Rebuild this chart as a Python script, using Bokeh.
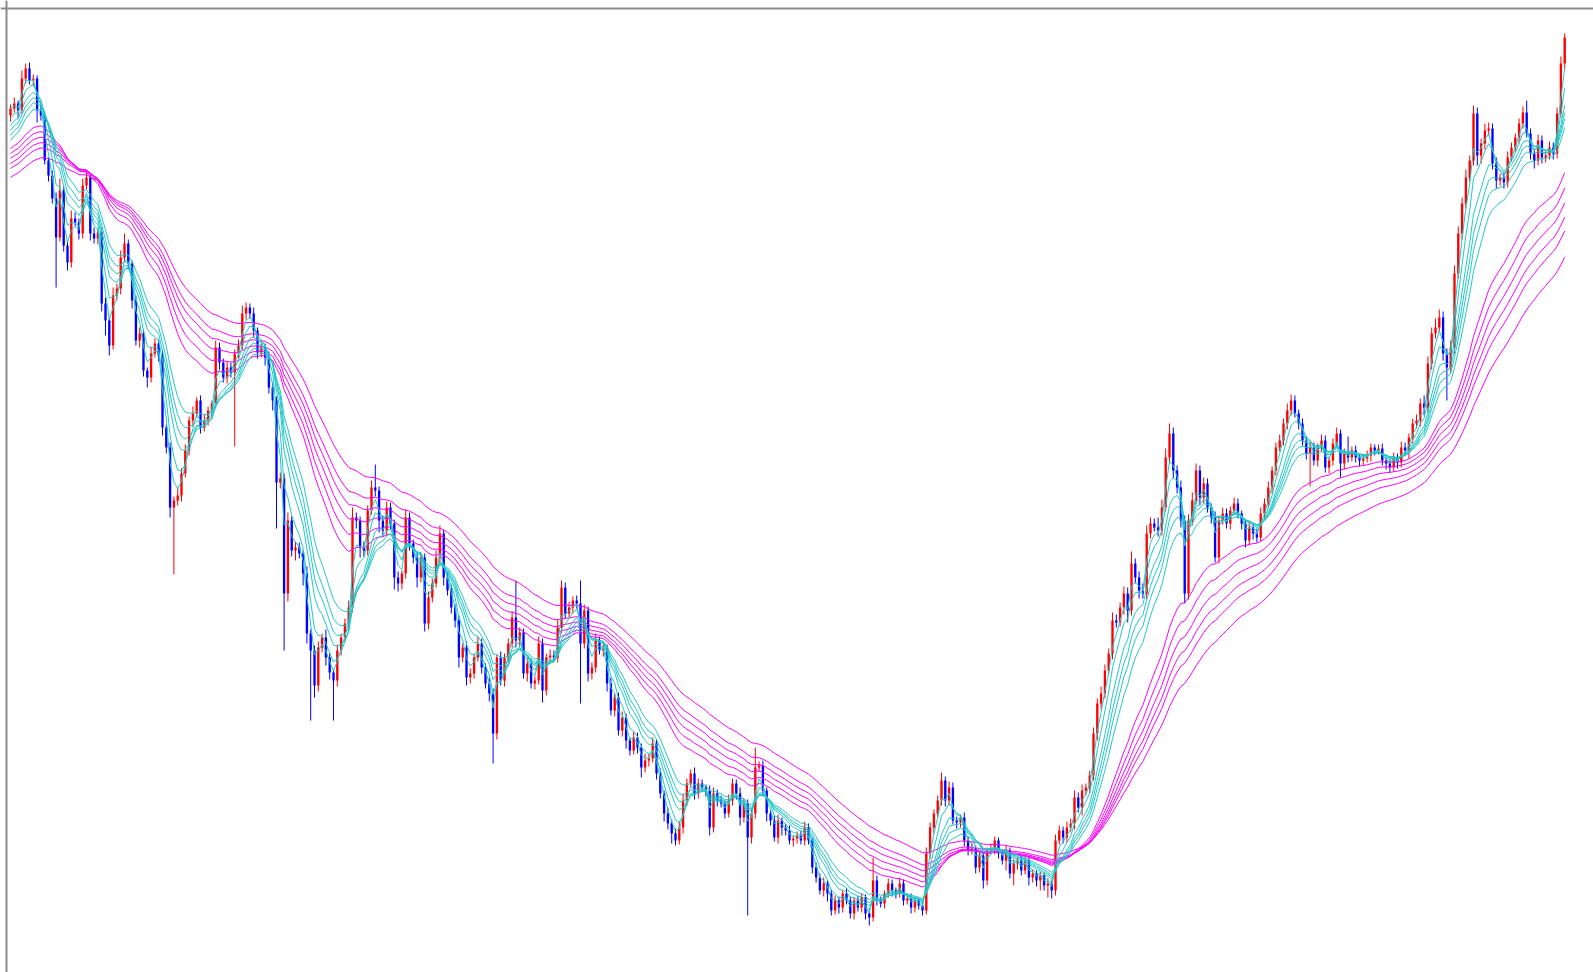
import numpy as np
from bokeh.plotting import figure
from bokeh.models import Range1d, Span
from bokeh.embed import file_html
from bokeh.resources import INLINE

# ---------------- data (price units) ----------------
first_open = 885

close = [
    892, 897, 890, 922, 932, 920, 922, 890, 885, 840,
    825, 802, 763, 810, 755, 738, 782, 778, 767, 815,
    823, 767, 762, 768, 697, 680, 655, 705, 712, 743,
    757, 737, 700, 660, 667, 630, 623, 647, 657, 645,
    573, 553, 493, 500, 505, 527, 550, 580, 587, 600,
    573, 580, 590, 597, 653, 638, 623, 633, 628, 647,
    655, 687, 693, 687, 670, 648, 653, 643, 613, 600,
    518, 522, 407, 480, 450, 453, 447, 427, 367, 350,
    315, 353, 363, 343, 328, 320, 350, 363, 377, 393,
    483, 480, 453, 450, 490, 513, 510, 480, 470, 493,
    477, 423, 417, 427, 483, 457, 443, 423, 443, 377,
    403, 417, 443, 467, 423, 410, 393, 380, 343, 353,
    323, 327, 343, 357, 333, 317, 307, 267, 343, 320,
    343, 357, 383, 360, 368, 327, 337, 317, 320, 357,
    310, 343, 345, 343, 373, 413, 387, 393, 400, 397,
    357, 390, 327, 333, 360, 350, 353, 317, 290, 303,
    270, 283, 260, 250, 263, 253, 233, 240, 242, 257,
    227, 207, 187, 177, 167, 160, 173, 200, 217, 227,
    207, 217, 213, 210, 173, 207, 200, 197, 187, 200,
    217, 207, 183, 197, 163, 187, 233, 235, 210, 187,
    180, 163, 180, 173, 170, 160, 162, 165, 160, 173,
    160, 133, 123, 110, 117, 107, 90, 100, 93, 107,
    100, 87, 100, 93, 103, 87, 83, 120, 100, 97,
    107, 117, 110, 107, 117, 100, 102, 93, 100, 95,
    90, 147, 173, 187, 200, 220, 200, 213, 180, 178,
    183, 160, 150, 152, 133, 145, 120, 150, 152, 160,
    147, 140, 150, 127, 137, 140, 130, 140, 123, 127,
    120, 125, 115, 117, 110, 160, 170, 163, 173, 177,
    203, 193, 210, 213, 225, 267, 297, 307, 330, 347,
    380, 378, 393, 407, 390, 437, 423, 410, 407, 467,
    477, 473, 470, 493, 543, 567, 530, 513, 480, 407,
    480, 500, 530, 503, 517, 493, 483, 443, 480, 487,
    477, 490, 497, 487, 477, 460, 473, 467, 463, 487,
    497, 513, 530, 553, 560, 577, 590, 600, 587, 577,
    560, 547, 553, 540, 553, 560, 533, 540, 557, 567,
    537, 547, 543, 550, 543, 540, 542, 545, 553, 550,
    552, 540, 537, 533, 543, 538, 553, 550, 563, 577,
    580, 597, 593, 637, 667, 673, 683, 647, 633, 653,
    727, 767, 797, 823, 840, 887, 845, 857, 870, 872,
    837, 820, 823, 818, 843, 853, 863, 877, 888, 867,
    847, 840, 860, 843, 845, 853, 847, 887, 937, 963,
]

upper_wick = [
    4, 6, 3, 8, 5, 6, 4, 3, 5, 4,
    3, 5, 6, 12, 4, 5, 8, 6, 4, 7,
    5, 3, 6, 4, 5, 6, 3, 8, 5, 7,
    10, 4, 3, 5, 6, 4, 3, 7, 5, 4,
    6, 3, 5, 4, 8, 5, 6, 4, 7, 3,
    5, 6, 4, 3, 7, 5, 4, 6, 5, 4,
    6, 8, 5, 4, 6, 3, 5, 4, 6, 5,
    4, 6, 5, 8, 4, 6, 5, 3, 7, 4,
    5, 6, 4, 8, 5, 3, 6, 4, 5, 7,
    10, 5, 4, 6, 5, 7, 23, 4, 5, 6,
    5, 4, 6, 3, 8, 5, 4, 6, 5, 4,
    6, 5, 7, 8, 4, 5, 6, 3, 5, 4,
    6, 5, 4, 7, 5, 4, 6, 5, 3, 6,
    4, 5, 6, 37, 5, 4, 6, 5, 4, 7,
    5, 4, 6, 5, 8, 7, 5, 6, 4, 5,
    23, 6, 4, 5, 7, 4, 5, 3, 6, 4,
    5, 6, 4, 3, 6, 5, 4, 7, 5, 6,
    4, 5, 3, 6, 4, 5, 6, 7, 5, 4,
    6, 5, 4, 3, 5, 6, 4, 5, 3, 6,
    5, 4, 6, 5, 4, 5, 20, 4, 5, 3,
    4, 5, 6, 3, 4, 5, 3, 4, 5, 6,
    4, 3, 5, 4, 6, 3, 4, 5, 4, 3,
    5, 4, 3, 5, 4, 3, 4, 23, 5, 4,
    3, 5, 4, 3, 6, 4, 3, 5, 4, 3,
    4, 6, 5, 4, 5, 8, 4, 6, 5, 4,
    3, 5, 4, 6, 3, 5, 4, 3, 5, 4,
    3, 4, 5, 3, 4, 3, 5, 4, 3, 4,
    3, 4, 3, 5, 3, 6, 5, 4, 6, 5,
    7, 5, 6, 4, 5, 6, 5, 7, 6, 5,
    8, 6, 5, 7, 6, 12, 5, 6, 7, 8,
    6, 5, 10, 8, 9, 10, 6, 5, 7, 5,
    6, 8, 7, 5, 6, 5, 4, 6, 5, 6,
    5, 4, 6, 5, 3, 4, 5, 4, 5, 6,
    5, 6, 4, 5, 6, 5, 7, 6, 5, 4,
    5, 4, 6, 5, 4, 6, 5, 4, 5, 6,
    4, 5, 17, 4, 5, 3, 4, 5, 4, 3,
    4, 5, 3, 4, 5, 4, 6, 5, 4, 5,
    6, 5, 8, 7, 6, 9, 8, 6, 5, 7,
    8, 7, 6, 8, 5, 8, 6, 5, 7, 6,
    5, 6, 4, 5, 6, 5, 4, 5, 6, 12,
    5, 4, 6, 5, 4, 6, 5, 6, 7, 4,
]

lower_wick = [
    6, 4, 8, 3, 5, 4, 6, 12, 5, 4,
    6, 5, 50, 4, 6, 8, 5, 4, 6, 5,
    4, 7, 5, 6, 8, 15, 10, 4, 5, 6,
    5, 6, 8, 5, 7, 6, 10, 5, 4, 6,
    8, 6, 10, 67, 5, 6, 4, 5, 6, 4,
    6, 4, 5, 6, 4, 7, 5, 6, 5, 74,
    5, 4, 6, 5, 7, 6, 5, 8, 6, 10,
    46, 6, 57, 8, 6, 10, 5, 12, 10, 70,
    12, 6, 5, 8, 7, 40, 6, 5, 4, 6,
    5, 8, 10, 6, 5, 4, 6, 12, 6, 5,
    6, 12, 8, 6, 5, 7, 6, 10, 5, 8,
    6, 5, 4, 6, 8, 5, 6, 7, 10, 5,
    8, 6, 5, 4, 6, 5, 8, 30, 6, 5,
    6, 5, 4, 7, 6, 5, 8, 5, 6, 4,
    12, 5, 6, 4, 5, 6, 5, 4, 6, 5,
    60, 5, 8, 6, 5, 4, 6, 8, 5, 6,
    5, 6, 8, 5, 4, 6, 10, 5, 6, 4,
    6, 5, 8, 6, 10, 5, 4, 6, 5, 4,
    6, 5, 4, 6, 8, 5, 6, 4, 5, 4,
    5, 6, 8, 5, 78, 6, 5, 4, 6, 8,
    5, 4, 6, 8, 5, 4, 6, 5, 4, 5,
    4, 6, 5, 4, 6, 8, 5, 4, 6, 5,
    4, 5, 6, 4, 5, 6, 8, 4, 5, 4,
    5, 4, 6, 5, 4, 5, 4, 6, 5, 4,
    5, 4, 5, 6, 4, 5, 6, 5, 4, 6,
    5, 6, 5, 4, 6, 5, 8, 5, 4, 6,
    5, 4, 10, 5, 12, 6, 5, 4, 8, 5,
    6, 10, 5, 12, 8, 5, 4, 6, 5, 4,
    6, 5, 8, 5, 6, 5, 7, 6, 5, 4,
    6, 5, 4, 7, 12, 5, 6, 8, 5, 6,
    5, 4, 6, 5, 4, 6, 8, 6, 7, 10,
    6, 5, 4, 8, 6, 5, 6, 5, 6, 4,
    5, 6, 4, 5, 6, 7, 5, 6, 5, 4,
    5, 4, 6, 5, 4, 5, 6, 5, 4, 6,
    5, 6, 33, 5, 6, 4, 5, 6, 5, 4,
    14, 6, 5, 4, 5, 6, 5, 4, 6, 5,
    4, 5, 6, 5, 4, 6, 5, 4, 8, 6,
    5, 6, 8, 5, 6, 5, 4, 7, 33, 6,
    6, 5, 6, 5, 4, 5, 10, 8, 6, 5,
    6, 8, 5, 6, 5, 4, 5, 6, 5, 4,
    6, 8, 5, 6, 5, 4, 6, 5, 4, 6,
]

short_periods = [3, 5, 8, 10, 12, 15]
long_periods = [30, 35, 40, 45, 50, 60]
short_start = [892, 882, 875, 870, 865, 860]
long_start = [852, 847, 842, 837, 832, 823]

# ---------------- derived ----------------
n = min(len(close), len(upper_wick), len(lower_wick))
c = np.array(close[:n], dtype=float)
o = np.concatenate([[first_open], c[:-1]])
hi = np.maximum(o, c) + np.array(upper_wick[:n], dtype=float)
lo = np.minimum(o, c) - np.array(lower_wick[:n], dtype=float)
x = np.arange(n)
cols = np.where(c > o, "#ff0000", np.where(c < o, "#0000ff", "#7a7a7a"))


def ema(vals, period, start):
    a = 2.0 / (period + 1)
    out = np.empty(len(vals))
    out[0] = start
    for i in range(1, len(vals)):
        out[i] = out[i - 1] + a * (vals[i] - out[i - 1])
    return out


# ---------------- figure ----------------
W, H = 1593, 972
SP = 3.8
x0 = -10.0 / SP
p = figure(width=W, height=H, output_backend="svg", toolbar_location=None,
           x_range=Range1d(x0, x0 + W / SP), y_range=Range1d(1000 - H, 1000),
           min_border=0, min_border_left=0, min_border_right=0,
           min_border_top=0, min_border_bottom=0)
p.xaxis.visible = False
p.yaxis.visible = False
p.xgrid.visible = False
p.ygrid.visible = False
p.outline_line_color = None
p.background_fill_color = "white"
p.border_fill_color = "white"

p.segment(x0=x, y0=lo, x1=x, y1=hi, line_color=cols, line_width=1)
p.vbar(x=x, width=0.62, top=np.maximum(o, c), bottom=np.minimum(o, c),
       fill_color=cols, line_color=None)

for per, st in zip(long_periods, long_start):
    p.line(x, ema(c, per, st), line_color="#ff00ff", line_width=1)
for per, st in zip(short_periods, short_start):
    p.line(x, ema(c, per, st), line_color="#22c8c8", line_width=1)

p.add_layout(Span(location=992, dimension="width", line_color="#8a8a8a", line_width=2))
p.add_layout(Span(location=x0 + 6.0 / SP, dimension="height", line_color="#8a8a8a", line_width=2))

open("out.html", "w").write(file_html(p, INLINE))
